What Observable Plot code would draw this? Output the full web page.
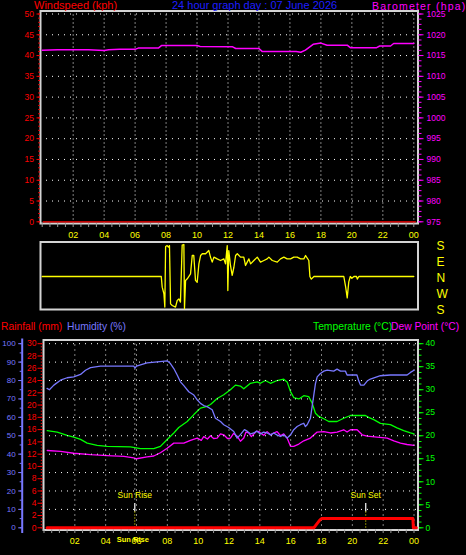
<!DOCTYPE html>
<html>
<head>
<meta charset="utf-8">
<script src="https://cdn.jsdelivr.net/npm/d3@7"></script>
<script src="https://cdn.jsdelivr.net/npm/@observablehq/plot@0.6"></script>
<style>
html, body { margin: 0; padding: 0; background: #000; }
#chart { position: relative; width: 466px; height: 555px; background: #000; overflow: hidden; }
#chart svg { position: absolute; left: 0; top: 0; }
.lbl { position: absolute; white-space: nowrap; line-height: 1; font-family: "Liberation Sans", Arial, sans-serif; }
</style>
</head>
<body>
<div id="chart"></div>
<script>
// ---------- data ----------
const hourTicks = [2, 4, 6, 8, 10, 12, 14, 16, 18, 20, 22, 24];
const hourLabels = ["02", "04", "06", "08", "10", "12", "14", "16", "18", "20", "22", "00"];

const windTicks = [0, 5, 10, 15, 20, 25, 30, 35, 40, 45, 50];
const baroTicks = [975, 980, 985, 990, 995, 1000, 1005, 1010, 1015, 1020, 1025];
const dirTicks = [180, 90, 0, -90, -180];
const dirLabels = ["S", "E", "N", "W", "S"];
const humTicks = [0, 10, 20, 30, 40, 50, 60, 70, 80, 90, 100];
const rainTicks = [0, 2, 4, 6, 8, 10, 12, 14, 16, 18, 20, 22, 24, 26, 28, 30];
const tempTicks = [0, 5, 10, 15, 20, 25, 30, 35, 40];

const windHours = [0.06, 24.1];
const windSpeed = [0, 0];

const baroHours = [0, 1, 2, 3, 4, 4.3, 5, 6, 6.2, 7.5, 7.7, 9, 10, 10.2, 12.3, 12.5, 14, 14.2, 16.4, 16.7, 17, 17.5, 18, 18.4, 19.7, 19.9, 21.6, 21.8, 22.5, 22.7, 24];
const baroValues = [1016.3, 1016.4, 1016.4, 1016.4, 1016.2, 1016.4, 1016.5, 1016.5, 1016.8, 1016.8, 1017.4, 1017.4, 1017.4, 1017.2, 1017.1, 1016.7, 1016.7, 1016.0, 1016.0, 1015.8, 1016.3, 1017.7, 1018.0, 1017.5, 1017.5, 1016.9, 1016.9, 1017.3, 1017.3, 1017.9, 1017.9];

const dirHours = [0, 7.69, 7.75, 7.86, 7.92, 7.97, 8.07, 8.15, 8.22, 8.29, 8.40, 8.61, 8.72, 8.83, 8.93, 9.04, 9.15, 9.19, 9.26, 9.37, 9.58, 9.69, 9.79, 9.90, 10.01, 10.12, 10.23, 10.34, 10.55, 10.76, 10.87, 10.98, 11.09, 11.30, 11.52, 11.73, 11.84, 11.95, 11.99, 12.05, 12.16, 12.27, 12.38, 12.49, 12.60, 12.81, 13.02, 13.13, 13.24, 13.35, 13.46, 13.67, 13.89, 14.10, 14.32, 14.53, 14.64, 14.86, 15.18, 15.39, 15.61, 15.82, 16.04, 16.25, 16.47, 16.69, 16.90, 17.01, 17.22, 17.29, 17.38, 17.55, 19.48, 19.60, 19.70, 19.80, 19.90, 20.00, 20.13, 20.30, 20.35, 20.45, 24];
const dirValues = [0, 0, -60, -97, -172, 169, 174, 165, 174, -154, -163, -172, -135, -126, -144, 176, 180, -180, -22, -13, 15, 118, 118, -22, -32, 71, 118, 128, 128, 146, 109, 81, 109, 99, 90, 99, 71, 174, -79, 146, 62, 6, 52, 118, 128, 109, 109, 62, 81, 99, 71, 90, 109, 81, 90, 99, 109, 90, 81, 99, 109, 99, 99, 109, 109, 99, 99, 118, 90, 0, -15, 0, 0, -60, -120, -30, 0, -10, 0, 0, -15, 0, 0];

const humHours = [0.2, 0.35, 0.64, 1.07, 1.5, 1.93, 2.37, 2.69, 3.02, 3.66, 5.82, 5.9, 6.0, 6.26, 6.69, 7.34, 7.99, 8.2, 8.42, 8.64, 8.85, 9.07, 9.39, 9.72, 9.94, 10.15, 10.36, 10.58, 10.91, 11.12, 11.45, 11.66, 11.98, 12.31, 12.53, 12.74, 13.0, 13.18, 13.4, 13.61, 13.8, 14.04, 14.25, 14.47, 14.7, 14.9, 15.1, 15.34, 15.55, 15.77, 15.99, 16.2, 16.42, 16.63, 16.85, 16.95, 17.07, 17.28, 17.39, 17.5, 17.61, 17.72, 17.93, 18.15, 18.37, 18.79, 19.01, 19.23, 19.55, 19.66, 20.09, 20.3, 20.42, 20.53, 20.75, 20.96, 21.17, 21.82, 22.47, 23.55, 23.77, 24];
const humValues = [75.7, 75.0, 77.5, 80.2, 81.5, 82.0, 83.3, 85.6, 87.0, 87.8, 87.8, 86.8, 87.8, 88.5, 89.6, 90.1, 90.7, 89.2, 86.5, 83.0, 79.3, 77.2, 73.9, 72.1, 69.5, 67.6, 66.4, 65.8, 64.1, 59.5, 57.7, 56.0, 54.5, 52.3, 48.7, 50.6, 53.3, 52.5, 51.0, 51.5, 52.5, 51.0, 52.0, 51.5, 50.5, 51.5, 50.5, 49.6, 50.5, 48.7, 50.5, 53.3, 55.0, 56.0, 56.8, 55.0, 56.0, 59.5, 65.8, 72.1, 78.4, 82.0, 83.8, 85.1, 85.6, 85.1, 86.2, 85.1, 85.1, 83.0, 83.0, 83.0, 79.7, 77.5, 77.5, 79.7, 80.8, 82.6, 83.0, 83.0, 84.4, 85.6];

const tempHours = [0.21, 0.86, 1.5, 1.93, 2.37, 2.8, 3.45, 4.1, 5.61, 6.26, 7.12, 7.55, 7.99, 8.42, 8.74, 9.29, 9.72, 10.15, 10.58, 10.8, 11.23, 11.66, 12.09, 12.42, 12.74, 12.96, 13.39, 13.83, 14.04, 14.36, 14.69, 15.12, 15.55, 15.77, 15.99, 16.2, 16.53, 16.85, 17.17, 17.39, 17.61, 17.82, 18.15, 18.47, 19.01, 19.44, 19.88, 20.85, 21.06, 21.39, 21.82, 22.47, 22.9, 23.33, 23.77, 24];
const tempValues = [21.1, 20.8, 20.1, 19.7, 19.2, 18.4, 17.9, 17.7, 17.6, 17.2, 17.2, 17.7, 19.2, 20.6, 21.8, 23.1, 24.6, 26.0, 26.4, 26.8, 28.1, 28.9, 30.0, 31.0, 30.8, 30.2, 31.4, 31.7, 31.4, 32.0, 31.4, 32.0, 32.3, 31.7, 29.6, 28.3, 28.0, 28.7, 28.5, 27.1, 24.9, 24.2, 23.7, 23.1, 23.1, 23.8, 24.4, 24.4, 24.0, 23.5, 22.7, 22.4, 21.7, 21.1, 20.6, 20.4];

const dewHours = [0.21, 1.07, 1.93, 3.02, 4.1, 5.18, 5.82, 6.0, 6.69, 7.12, 7.55, 7.99, 8.42, 9.07, 9.5, 9.94, 10.2, 10.36, 10.6, 10.8, 11.0, 11.23, 11.45, 11.66, 11.9, 12.09, 12.3, 12.53, 12.74, 12.96, 13.1, 13.28, 13.45, 13.61, 13.8, 13.93, 14.04, 14.25, 14.47, 14.7, 14.9, 15.12, 15.34, 15.55, 15.77, 15.99, 16.2, 16.53, 16.85, 17.28, 17.72, 18.15, 18.58, 19.01, 19.44, 19.66, 19.88, 20.31, 20.64, 20.96, 21.6, 22.26, 22.69, 23.12, 23.55, 24];
const dewValues = [16.8, 16.6, 16.2, 15.9, 15.7, 15.5, 15.2, 15.0, 15.4, 15.6, 16.3, 17.3, 18.4, 18.4, 19.0, 19.5, 19.0, 19.8, 19.3, 20.0, 19.4, 19.5, 20.4, 20.2, 19.4, 19.5, 20.5, 19.9, 18.8, 19.5, 20.8, 20.6, 19.8, 20.4, 21.0, 20.9, 20.6, 20.1, 20.9, 20.2, 20.6, 20.9, 20.0, 20.4, 19.5, 17.7, 17.7, 18.2, 18.9, 19.5, 20.8, 20.9, 20.6, 20.8, 21.3, 20.8, 21.3, 21.3, 20.2, 19.9, 19.7, 19.5, 18.9, 18.4, 18.1, 17.9];

const rainHours = [0.2, 17.5, 17.6, 17.75, 17.9, 18.0, 23.93, 23.96, 24.15];
const rainValues = [0, 0, 0.3, 0.8, 1.3, 1.5, 1.5, 0, 0];

const sunHours = [5.89, 20.87];
const sunLabels = ["Sun Rise", "Sun Set"];

// ---------- style ----------
const FONT = '"Liberation Sans", Arial, sans-serif';
const RED = "#ff0000", MAG = "#ff00ff", YEL = "#ffff00", GRN = "#00ff00", HUM = "#7878ff", TITLE = "#1e1eff";
const FRAME = "#d4d4d4", GRID = "#ffffff", TICK = "#9a9a9a";

const chart = document.getElementById("chart");
function addPlot(opts) {
  const svg = Plot.plot({
    width: 466, height: 555,
    ...opts,
    style: {background: "transparent", fontFamily: FONT, overflow: "visible", color: "#fff"}
  });
  chart.appendChild(svg);
}
function addLabel(text, left, baseline, color, size, extra = {}) {
  const d = document.createElement("div");
  d.className = "lbl";
  d.textContent = text;
  Object.assign(d.style, {left: left + "px", top: (baseline - 0.8465 * size) + "px", color, fontSize: size + "px"}, extra);
  chart.appendChild(d);
}

const topGeom = {marginLeft: 40, marginRight: 48.5, marginTop: 10.5, marginBottom: 332};
const topX = {domain: [0, 24], insetLeft: 1.7, insetRight: 4.2};
const dirGeom = {marginLeft: 40, marginRight: 48.5, marginTop: 241.5, marginBottom: 246};
const botGeom = {marginLeft: 43, marginRight: 48.5, marginTop: 339.5, marginBottom: 25.5};
const botX = {domain: [0, 24], insetLeft: 0.5, insetRight: 4};
const botY = {insetTop: 3.7, insetBottom: 2.2};

const hourFmt = d => hourLabels[hourTicks.indexOf(d)];
const plain = d => String(d);
const halfHours = d3.range(0, 24.01, 0.5);

// ---------- top panel: wind speed ----------
addPlot({
  ...topGeom,
  x: topX,
  y: {domain: [0, 50], insetTop: 3, insetBottom: 1.7},
  marks: [
    Plot.gridY({ticks: windTicks.slice(1), stroke: GRID, strokeOpacity: 1, strokeDasharray: "1,5"}),
    Plot.gridX({ticks: hourTicks, stroke: GRID, strokeOpacity: 1, strokeDasharray: "1,3"}),
    Plot.frame({stroke: FRAME, strokeWidth: 2}),
    Plot.axisY({anchor: "left", ticks: windTicks, tickSize: 3.5, tickPadding: 3, tickFormat: plain, color: RED, fontSize: 8.5, label: null}),
    Plot.axisY({anchor: "left", ticks: d3.range(0, 50.01, 1), tickSize: 1.8, stroke: RED, fill: "none", label: null}),
    Plot.axisX({anchor: "bottom", ticks: halfHours, tickSize: 4, stroke: TICK, fill: "none", label: null}),
    Plot.axisX({anchor: "bottom", ticks: hourTicks, tickSize: 0, tickPadding: 8, tickFormat: hourFmt, color: YEL, fontSize: 9, label: null}),
    Plot.lineY(windSpeed, {x: windHours, stroke: RED, strokeWidth: 1.2})
  ]
});

// ---------- top panel: barometer ----------
addPlot({
  ...topGeom,
  x: {...topX, axis: null},
  y: {domain: [975, 1025], insetTop: 3, insetBottom: 1.7},
  marks: [
    Plot.axisY({anchor: "right", ticks: baroTicks, tickSize: 5, tickPadding: 3.5, tickFormat: plain, color: MAG, fontSize: 8.5, label: null}),
    Plot.axisY({anchor: "right", ticks: d3.range(975, 1025.01, 1.25), tickSize: 3, stroke: MAG, fill: "none", label: null}),
    Plot.lineY(baroValues, {x: baroHours, stroke: MAG, strokeWidth: 1.5})
  ]
});

// ---------- wind direction panel ----------
addPlot({
  ...dirGeom,
  x: {...topX, axis: null},
  y: {domain: [-180, 180], insetTop: 2.5, insetBottom: 1},
  marks: [
    Plot.frame({stroke: FRAME, strokeWidth: 2}),
    Plot.lineY(dirValues, {x: dirHours, stroke: YEL, strokeWidth: 1.3}),
    Plot.axisY({anchor: "right", ticks: dirTicks, tickSize: 0, tickPadding: 18.5, tickFormat: d => dirLabels[dirTicks.indexOf(d)], color: YEL, fontSize: 12, dy: 2, label: null})
  ]
});

// ---------- bottom panel: temperature & dew point ----------
addPlot({
  ...botGeom,
  x: {...botX, axis: null},
  y: {domain: [0, 40], ...botY},
  marks: [
    Plot.axisY({anchor: "right", ticks: tempTicks, tickSize: 5, tickPadding: 2.5, tickFormat: plain, color: GRN, fontSize: 8.5, label: null}),
    Plot.axisY({anchor: "right", ticks: d3.range(0, 40.01, 1.25), tickSize: 3, stroke: GRN, fill: "none", label: null}),
    Plot.lineY(tempValues, {x: tempHours, stroke: GRN, strokeWidth: 1.3}),
    Plot.lineY(dewValues, {x: dewHours, stroke: MAG, strokeWidth: 1.3})
  ]
});

// ---------- bottom panel: humidity, grid, frame, x axis ----------
addPlot({
  ...botGeom,
  x: botX,
  y: {domain: [0, 100], ...botY},
  marks: [
    Plot.gridY({ticks: humTicks.slice(1), stroke: GRID, strokeOpacity: 1, strokeDasharray: "1,5"}),
    Plot.gridX({ticks: hourTicks, stroke: GRID, strokeOpacity: 1, strokeDasharray: "1,4"}),
    Plot.ruleX(sunHours.slice(0, 1), {x: d => d, stroke: GRID, strokeDasharray: "1,4", insetTop: 4, insetBottom: 26.5}),
    Plot.frame({stroke: FRAME, strokeWidth: 2}),
    Plot.frame({anchor: "left", dx: -21.3, stroke: HUM, strokeWidth: 2, insetTop: -0.5, insetBottom: -2}),
    Plot.axisY({anchor: "left", dx: -21.3, ticks: humTicks, tickSize: 3.5, tickPadding: 3, tickFormat: plain, color: HUM, fontSize: 8, label: null}),
    Plot.axisY({anchor: "left", dx: -21.3, ticks: d3.range(0, 100.01, 5), tickSize: 2, stroke: HUM, fill: "none", label: null}),
    Plot.lineY(humValues, {x: humHours, stroke: HUM, strokeWidth: 1.3}),
    Plot.axisX({anchor: "bottom", ticks: halfHours, tickSize: 3.5, stroke: TICK, fill: "none", label: null}),
    Plot.axisX({anchor: "bottom", ticks: hourTicks, tickSize: 0, tickPadding: 8, tickFormat: hourFmt, color: YEL, fontSize: 9, label: null}),
    Plot.ruleX(sunHours, {x: d => d, stroke: "#ffffff", strokeWidth: 1.2, insetTop: 163.5, insetBottom: 18}),
    Plot.ruleX(sunHours, {x: d => d, stroke: YEL, strokeDasharray: "1,2", insetTop: 172, insetBottom: 2}),
    Plot.text(sunHours, {x: d => d, text: (d, i) => sunLabels[i], frameAnchor: "bottom", dy: -31.8, fill: YEL, fontSize: 8.5}),
    Plot.text(sunHours.slice(0, 1), {x: d => d, text: (d, i) => sunLabels[i], frameAnchor: "bottom", dy: 12.3, dx: -2, fill: YEL, fontSize: 7.5, fontWeight: "bold"})
  ]
});

// ---------- bottom panel: rainfall ----------
addPlot({
  ...botGeom,
  x: {...botX, axis: null},
  y: {domain: [0, 30], ...botY},
  marks: [
    Plot.axisY({anchor: "left", dx: -0.5, ticks: rainTicks, tickSize: 5, tickPadding: 1.5, tickFormat: plain, color: RED, fontSize: 8.5, label: null}),
    Plot.axisY({anchor: "left", dx: -0.8, ticks: d3.range(0, 30.01, 0.5), tickSize: 1.4, stroke: RED, fill: "none", label: null}),
    Plot.lineY(rainValues, {x: rainHours, stroke: RED, strokeWidth: 3})
  ]
});

// ---------- titles & legends ----------
addLabel("Windspeed (kph)", 34, 9.4, RED, 11);
addLabel("24 hour graph day : 07 June 2026", 172, 9.4, TITLE, 11);
addLabel("Barometer (hpa)", 372, 9.5, MAG, 10.5, {letterSpacing: "1.2px"});
addLabel("Rainfall (mm)", 1, 330.7, RED, 10.3);
addLabel("Humidity (%)", 67, 330.7, HUM, 10.3);
addLabel("Temperature (°C)", 313, 330.7, GRN, 10.3);
addLabel("Dew Point (°C)", 391, 330.7, MAG, 10.3);
</script>
</body>
</html>
